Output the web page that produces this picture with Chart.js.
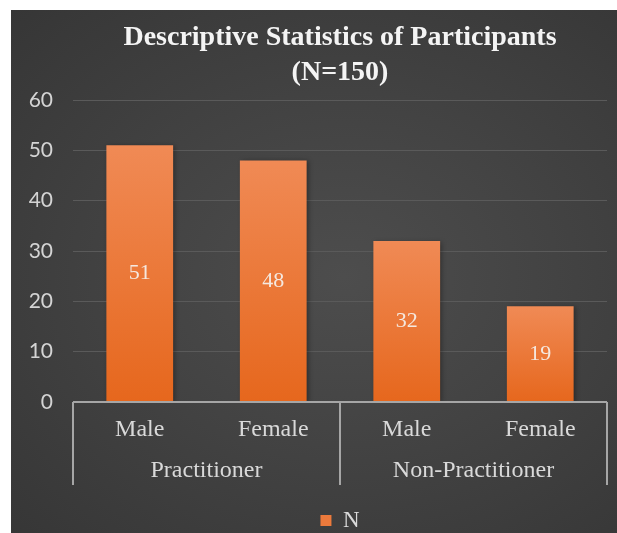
<!DOCTYPE html>
<html>
<head>
<meta charset="utf-8">
<script src="https://cdn.jsdelivr.net/npm/chart.js@4.4.1/dist/chart.umd.min.js"></script>
<style>
  html, body { margin: 0; padding: 0; background: #fff; overflow: hidden; }
  #wrap {
    position: absolute; left: 11px; top: 10px; width: 606px; height: 532px;
    background: radial-gradient(ellipse at 55% 50%, #4d4d4d 0%, #434343 45%, #363636 100%);
  }
</style>
</head>
<body>
<div id="wrap"><canvas id="chart"></canvas></div>
<script>
// ---- data ----
const categories = ["Male", "Female", "Male", "Female"];
const groups = ["Practitioner", "Practitioner", "Non-Practitioner", "Non-Practitioner"];
const counts = [51, 48, 32, 19];
const yTicks = [0, 10, 20, 30, 40, 50, 60];

const SERIF = "'Liberation Serif', 'Times New Roman', serif";
const SANS = "Lato, 'Liberation Sans', sans-serif";
const lineCol = "#a6a6a6";

// bar gradient per bar (lighter at top)
function barFill(c) {
  const chart = c.chart;
  const area = chart.chartArea;
  if (!area) return "#e96c24";
  const y = chart.scales.y;
  const top = y.getPixelForValue(counts[c.dataIndex]);
  const bot = y.getPixelForValue(0);
  const g = chart.ctx.createLinearGradient(0, top, 0, bot);
  g.addColorStop(0, "#f08a55");
  g.addColorStop(1, "#e6671d");
  return g;
}

// shadow under bars + value labels
const barDeco = {
  id: "barDeco",
  beforeDatasetsDraw(chart) {
    const ctx = chart.ctx;
    ctx.save();
    ctx.shadowColor = "rgba(0,0,0,0.35)";
    ctx.shadowBlur = 5;
    ctx.shadowOffsetX = 2;
    ctx.shadowOffsetY = 1;
  },
  afterDatasetsDraw(chart) {
    const ctx = chart.ctx;
    ctx.restore();
    const meta = chart.getDatasetMeta(0);
    ctx.save();
    ctx.font = "22px " + SERIF;
    ctx.fillStyle = "#f5e8df";
    ctx.textAlign = "center";
    ctx.textBaseline = "middle";
    meta.data.forEach((bar, i) => {
      ctx.fillText(String(counts[i]), bar.x, (bar.y + bar.base) / 2);
    });
    ctx.restore();
  }
};

// multi level category axis: axis line, dividers, group names
const groupAxis = {
  id: "groupAxis",
  afterDraw(chart) {
    const ctx = chart.ctx;
    const x = chart.scales.x;
    const bottom = chart.chartArea.bottom;
    const lineEnd = bottom + 83;
    ctx.save();
    ctx.strokeStyle = lineCol;
    ctx.lineWidth = 2;
    ctx.beginPath();
    ctx.moveTo(x.left, bottom);
    ctx.lineTo(x.right, bottom);
    const spans = [];
    groups.forEach((g, i) => {
      if (!spans.length || spans[spans.length - 1].name !== g) spans.push({ name: g, from: i, to: i });
      else spans[spans.length - 1].to = i;
    });
    const edges = [x.getPixelForValue(-0.5)];
    spans.forEach(s => edges.push(x.getPixelForValue(s.to + 0.5)));
    edges.forEach(px => {
      ctx.moveTo(px, bottom);
      ctx.lineTo(px, lineEnd);
    });
    ctx.stroke();
    ctx.font = "24px " + SERIF;
    ctx.fillStyle = "#d9d9d9";
    ctx.textAlign = "center";
    ctx.textBaseline = "middle";
    spans.forEach(s => {
      const a = x.getPixelForValue(s.from - 0.5);
      const b = x.getPixelForValue(s.to + 0.5);
      ctx.fillText(s.name, (a + b) / 2, bottom + 69);
    });
    ctx.restore();
  }
};

new Chart(document.getElementById("chart").getContext("2d"), {
  type: "bar",
  data: {
    labels: categories,
    datasets: [{
      label: "N",
      data: counts,
      backgroundColor: barFill,
      borderWidth: 0,
      categoryPercentage: 1,
      barPercentage: 0.5
    }]
  },
  options: {
    responsive: true,
    maintainAspectRatio: false,
    animation: false,
    events: [],
    layout: { padding: { top: 0, right: 10, bottom: 0, left: 0 } },
    plugins: {
      title: {
        display: true,
        fullSize: false,
        text: ["Descriptive Statistics of Participants", "(N=150)"],
        color: "#f4f4f4",
        font: { family: SERIF, size: 28, weight: "bold", lineHeight: 1.25 },
        padding: { top: 10, bottom: 10 }
      },
      legend: {
        position: "bottom",
        fullSize: false,
        labels: {
          color: "#d9d9d9",
          font: { family: SERIF, size: 23 },
          boxWidth: 11,
          boxHeight: 11,
          padding: 8,
          generateLabels: () => [{ text: "N", fillStyle: "#ec7a3c", strokeStyle: "#ec7a3c", lineWidth: 0, fontColor: "#d9d9d9" }]
        }
      },
      tooltip: { enabled: false }
    },
    scales: {
      y: {
        min: 0,
        max: 60,
        afterBuildTicks: s => { s.ticks = yTicks.map(v => ({ value: v })); },
        afterFit: s => { s.width = 62; },
        border: { display: false },
        grid: { color: "#5a5a5a", lineWidth: 1, drawTicks: false },
        ticks: { color: "#d4d4d4", font: { family: SANS, size: 21 }, padding: 20 }
      },
      x: {
        afterFit: s => { s.height = 99; },
        border: { display: false },
        grid: { display: false, drawTicks: false },
        ticks: { color: "#d9d9d9", font: { family: SERIF, size: 24 }, padding: 13, maxRotation: 0 }
      }
    }
  },
  plugins: [barDeco, groupAxis]
});
</script>
</body>
</html>
